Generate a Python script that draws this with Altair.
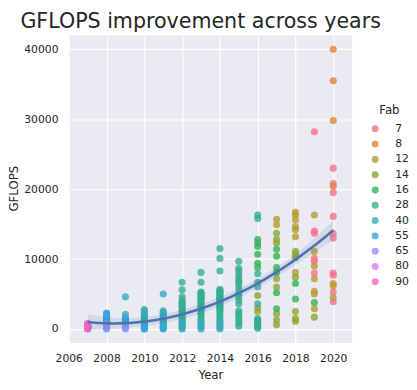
import altair as alt
import numpy as np
import pandas as pd

# ---- data: GFLOPS per year, per fab (nm) ----
fab_7 = {2019: [28200, 14000, 13700, 10100, 9700, 8000],
         2020: [23000, 20800, 19500, 16100, 13700, 13000, 8000, 7700, 5300, 3900]}
fab_8 = {2020: [40000, 35500, 29800, 20400, 6500]}
fab_12 = {2016: [3000],
          2017: [15700, 14900],
          2018: [16700, 16300, 15600, 14600, 14200, 13200, 8100],
          2019: [16300, 11100, 9000, 7200, 5400, 5000, 2900],
          2020: [6200, 4500]}
fab_14 = {2016: [4800, 2500],
          2017: [13700, 12800, 12300, 7200, 6000, 2200, 1300, 600],
          2018: [11100, 10700, 10200, 7400, 2500, 1500, 1100],
          2019: [1700]}
fab_16 = {2016: [12800, 12300, 11800, 10700, 9400, 8800],
          2017: [11400, 10400, 8800, 8100, 5200, 2900],
          2018: [6500, 4300],
          2019: [3800]}
fab_28 = {2012: [1100, 1300, 1500, 1700, 2000, 2200, 2500, 2700, 3000, 3200, 3400, 3700, 3900, 4200, 4600, 5600, 6700],
          2013: [1300, 1600, 2000, 2300, 2600, 2800, 3000, 3200, 3400, 3600, 3800, 4000, 4150, 4300,
                 4450, 4600, 4750, 4900, 5050, 5200, 5300, 6700, 8100],
          2014: [1300, 1700, 2100, 2500, 2800, 3000, 3200, 3400, 3600, 3800, 4000, 4150, 4300, 4450,
                 4600, 4750, 4900, 5050, 5200, 5350, 5500, 5700, 8300, 10100, 11500],
          2015: [400, 800, 1200, 1600, 2000, 2300, 2600,
                 3600, 4100, 4600, 5000, 5600, 6200, 6600, 6900, 7300, 7800, 8300, 8700, 9700],
          2016: [16300, 15800, 7900, 6700, 6000, 3600,
                 1500, 1300, 1100, 900, 700, 500, 300, 100]}
fab_40 = {2009: [2100, 4600],
          2010: [0, 200, 400, 600, 800, 1000, 1200, 1400, 1600, 1800, 2000, 2200, 2400, 2600, 2800],
          2011: [0, 200, 400, 600, 800, 1000, 1200, 1400, 1600, 1800, 2000, 2200, 2400, 2600, 5000],
          2012: [0, 200, 400, 600, 800, 1000],
          2013: [0, 250, 500, 750, 1000],
          2014: [0, 250, 500, 750, 1000]}
fab_55 = {2008: [900, 1000, 1100, 1200, 1300, 1400, 1500, 1600, 1700, 1800, 1900, 2000, 2100, 2200, 2300],
          2009: [600, 700, 800, 900, 1000, 1100, 1200, 1300, 1400, 1500, 1600],
          2010: [0, 150],
          2011: [100]}
fab_65 = {2008: [0, 100, 200, 300, 400, 500, 600, 750],
          2009: [0, 150, 300, 450]}
fab_80 = {2007: [100, 150, 200, 250, 300, 350, 400, 450, 500]}
fab_90 = {2007: [0, 50, 100, 150, 200, 250, 300, 350, 400, 450, 500, 550, 600, 650, 700, 750, 800]}

fab_labels = ["7", "8", "12", "14", "16", "28", "40", "55", "65", "80", "90"]
fab_tables = [fab_7, fab_8, fab_12, fab_14, fab_16, fab_28, fab_40, fab_55, fab_65, fab_80, fab_90]
fab_colors = ["#f77189", "#e0843a", "#b59b32", "#8fa531", "#33b153", "#35ae93",
              "#37abb8", "#3ba5df", "#9093f4", "#d97bf3", "#f667c6"]

year_ticks = [2006, 2008, 2010, 2012, 2014, 2016, 2018, 2020]
gflops_ticks = [0, 5000, 10000, 15000, 20000, 25000, 30000, 35000, 40000]

rows = []
for lab, table in zip(fab_labels, fab_tables):
    for yr, vals in table.items():
        for v in vals:
            rows.append({"Year": yr, "GFLOPS": v, "Fab": lab})
df = pd.DataFrame(rows)

# ---- 2nd-order polynomial fit with 95% confidence band ----
x = df["Year"].to_numpy(float) - 2013.0
y = df["GFLOPS"].to_numpy(float)
X = np.vstack([np.ones_like(x), x, x ** 2]).T
beta, *_ = np.linalg.lstsq(X, y, rcond=None)
resid = y - X @ beta
n, p = X.shape
sigma2 = resid @ resid / (n - p)
cov = sigma2 * np.linalg.inv(X.T @ X)
xs = np.linspace(df["Year"].min(), df["Year"].max(), 100)
xc = xs - 2013.0
Xg = np.vstack([np.ones_like(xc), xc, xc ** 2]).T
yhat = Xg @ beta
se = np.sqrt(np.einsum("ij,jk,ik->i", Xg, cov, Xg))
fit = pd.DataFrame({"Year": xs, "fit": yhat, "lo": yhat - 1.97 * se, "hi": yhat + 1.97 * se})

xscale = alt.Scale(domain=[2006, 2021], nice=False, zero=False)
yscale = alt.Scale(domain=[-2000, 42000], nice=False, zero=False)

points = alt.Chart(df).mark_circle(size=52, opacity=0.8).encode(
    x=alt.X("Year:Q", scale=xscale,
            axis=alt.Axis(values=year_ticks, format="d", title="Year", labelOverlap=False,
                          labelFlush=False)),
    y=alt.Y("GFLOPS:Q", scale=yscale,
            axis=alt.Axis(values=gflops_ticks, format="d", title="GFLOPS", labelOverlap=False,
                          labelFlush=False,
                          titleX=-56, titleY=156, titleBaseline="middle", titleAlign="center",
                          titleAngle=270)),
    color=alt.Color("Fab:N", sort=fab_labels,
                    scale=alt.Scale(domain=fab_labels, range=fab_colors),
                    legend=alt.Legend(title="Fab", orient="none", legendX=307, legendY=71,
                                      symbolType="circle", symbolSize=50, symbolOpacity=0.8,
                                      labelFontSize=11, titleFontSize=12, rowPadding=3.6,
                                      labelOffset=15, titlePadding=7, padding=0,
                                      titleAnchor="middle",
                                      labelColor="#262626", titleColor="#262626",
                                      titleFontWeight="normal")),
)

band = alt.Chart(fit).mark_area(color="#4c72b0", opacity=0.15).encode(
    x=alt.X("Year:Q", scale=xscale),
    y=alt.Y("lo:Q", scale=yscale),
    y2="hi:Q",
)
line = alt.Chart(fit).mark_line(color="#4c72b0", strokeWidth=2.6).encode(
    x=alt.X("Year:Q", scale=xscale),
    y=alt.Y("fit:Q", scale=yscale),
)

chart = alt.layer(points, band, line).properties(
    width=289, height=314,
    title=alt.TitleParams("GFLOPS improvement across years", fontSize=21, fontWeight="normal",
                          color="#262626", anchor="middle", dx=-10, offset=3),
    autosize=alt.AutoSizeParams(type="none"),
    padding={"left": 62, "top": 24, "right": 58, "bottom": 36},
).configure(
    font="DejaVu Sans",
    background="white",
).configure_view(
    fill="#eaeaf2", stroke=None,
).configure_axis(
    grid=True, gridColor="white", gridWidth=1.2, domain=False, ticks=False,
    labelFontSize=11, labelColor="#262626", titleFontSize=12, titleColor="#262626",
    titleFontWeight="normal",
).configure_axisY(
    labelPadding=11,
).configure_axisX(
    labelPadding=10, titlePadding=6,
)

chart.save("out.html", embed_options={"renderer": "svg", "actions": False})
